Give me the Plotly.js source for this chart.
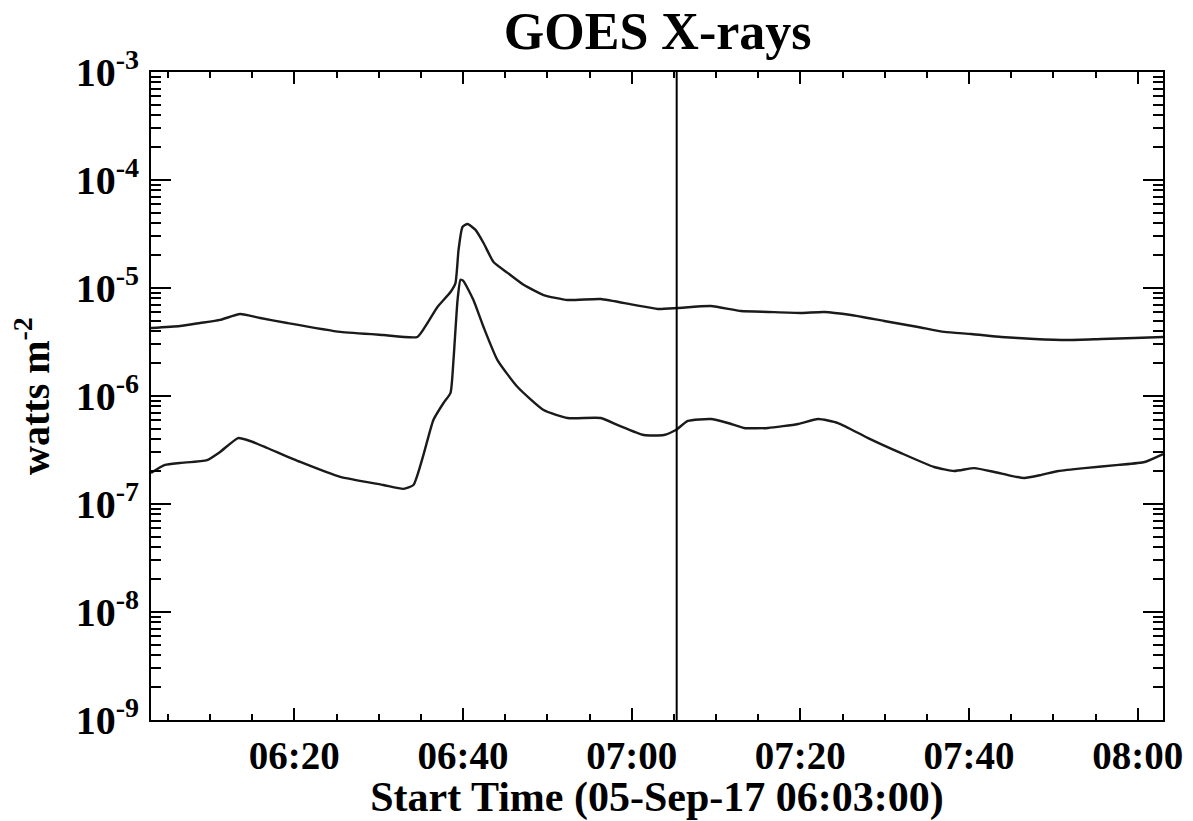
<!DOCTYPE html>
<html>
<head>
<meta charset="utf-8">
<script src="https://cdn.plot.ly/plotly-3.0.1.min.js"></script>
<style>html,body{margin:0;padding:0;background:#fff;}#chart{width:1193px;height:821px;}</style>
</head>
<body>
<div id="chart"></div>
<script>
// ---- data ----
const dateStr = '2017-09-05';
const longTimes = ['06:03:00','06:06:26','06:08:49','06:11:11','06:13:34','06:15:57','06:19:09','06:25:27','06:30:33','06:34:35','06:35:47','06:36:58','06:38:31','06:39:06','06:39:28','06:39:56','06:40:32','06:41:29','06:42:26','06:43:37','06:45:17','06:47:11','06:49:33','06:52:24','06:56:20','07:00:15','07:03:06','07:05:28','07:09:23','07:12:57','07:16:10','07:20:05','07:22:49','07:26:01','07:29:56','07:33:58','07:37:04','07:40:16','07:43:50','07:47:45','07:51:47','07:55:43','07:59:38','08:03:00'];
const longFlux = [4.26e-6,4.45e-6,4.74e-6,5.06e-6,5.74e-6,5.27e-6,4.74e-6,3.92e-6,3.67e-6,3.52e-6,4.74e-6,6.67e-6,9.18e-6,1.11e-5,2.25e-5,3.67e-5,3.92e-5,3.45e-5,2.61e-5,1.74e-5,1.38e-5,1.07e-5,8.61e-6,7.74e-6,7.91e-6,6.97e-6,6.40e-6,6.53e-6,6.81e-6,6.12e-6,6.00e-6,5.87e-6,6.00e-6,5.62e-6,4.95e-6,4.35e-6,3.92e-6,3.75e-6,3.52e-6,3.37e-6,3.30e-6,3.37e-6,3.44e-6,3.52e-6];
const shortTimes = ['06:03:00','06:04:40','06:06:26','06:09:39','06:11:11','06:13:20','06:14:45','06:16:47','06:20:42','06:25:27','06:30:33','06:32:56','06:34:07','06:35:18','06:36:29','06:37:41','06:38:31','06:38:52','06:39:21','06:39:42','06:40:03','06:41:14','06:42:26','06:44:05','06:46:28','06:49:33','06:52:24','06:56:20','06:58:21','07:01:26','07:03:49','07:05:14','07:06:40','07:09:23','07:11:25','07:13:19','07:16:10','07:19:43','07:22:06','07:24:28','07:28:02','07:31:57','07:35:52','07:38:15','07:40:37','07:43:00','07:45:00','07:46:34','07:48:35','07:50:36','07:53:41','07:57:44','08:00:49','08:03:00'];
const shortFlux = [1.94e-7,2.30e-7,2.40e-7,2.55e-7,3.03e-7,4.08e-7,3.83e-7,3.30e-7,2.45e-7,1.78e-7,1.50e-7,1.38e-7,1.50e-7,2.84e-7,6.00e-7,8.61e-7,1.07e-6,2.15e-6,7.74e-6,1.19e-5,1.16e-5,7.74e-6,4.35e-6,2.15e-6,1.21e-6,7.41e-7,6.25e-7,6.25e-7,5.38e-7,4.35e-7,4.35e-7,4.84e-7,5.87e-7,6.12e-7,5.62e-7,5.06e-7,5.06e-7,5.51e-7,6.12e-7,5.62e-7,4.08e-7,2.96e-7,2.20e-7,2.02e-7,2.15e-7,1.98e-7,1.82e-7,1.74e-7,1.86e-7,2.02e-7,2.15e-7,2.30e-7,2.45e-7,2.90e-7];
const markerTime = '07:05:20';
const xStart = '06:03:00';
const xEnd = '08:03:00';
const yTickVals = [1e-9,1e-8,1e-7,1e-6,1e-5,1e-4,1e-3];
const yTickText = ['10<sup>-9</sup>','10<sup>-8</sup>','10<sup>-7</sup>','10<sup>-6</sup>','10<sup>-5</sup>','10<sup>-4</sup>','10<sup>-3</sup>'];
const titleText = 'GOES X-rays';
const xTitleText = 'Start Time (05-Sep-17 06:03:00)';
const yTitleText = 'watts m<sup>-2</sup>';

const toDate = t => dateStr + ' ' + t;
const FONT = 'Liberation Serif, Times New Roman, serif';

const traces = [
  {x: longTimes.map(toDate), y: longFlux, type: 'scatter', mode: 'lines',
   line: {color: '#1a1a1a', width: 2.4, shape: 'spline', smoothing: 0.5}, hoverinfo: 'skip'},
  {x: shortTimes.map(toDate), y: shortFlux, type: 'scatter', mode: 'lines',
   line: {color: '#1a1a1a', width: 2.4, shape: 'spline', smoothing: 0.5}, hoverinfo: 'skip'}
];

const layout = {
  width: 1193, height: 821,
  margin: {l: 151, r: 30, t: 72, b: 101, pad: 0},
  paper_bgcolor: '#fff', plot_bgcolor: '#fff',
  showlegend: false,
  font: {family: FONT, color: '#000'},
  title: {text: titleText, x: 0.5513, xanchor: 'center', y: 0.985, yanchor: 'top',
          font: {family: FONT, size: 52, weight: 'bold', color: '#000'}},
  xaxis: {
    type: 'date', range: [toDate(xStart), toDate(xEnd)],
    tickmode: 'linear', tick0: toDate('06:00:00'), dtick: 20*60*1000,
    tickformat: '%H:%M',
    ticks: 'inside', ticklen: 12, tickwidth: 2, tickcolor: '#000',
    minor: {ticks: 'inside', dtick: 5*60*1000, tick0: toDate('06:00:00'), ticklen: 6, tickwidth: 2, tickcolor: '#000'},
    showline: true, linecolor: '#000', linewidth: 2, mirror: 'ticks',
    showgrid: false, zeroline: false,
    tickfont: {family: FONT, size: 39, weight: 'bold', color: '#000'},
    ticklabelstandoff: 0,
    title: {text: xTitleText, standoff: 4, font: {family: FONT, size: 42, weight: 'bold', color: '#000'}}
  },
  yaxis: {
    type: 'log', range: [-9, -3],
    tickmode: 'array', tickvals: yTickVals, ticktext: yTickText,
    ticks: 'inside', ticklen: 20, tickwidth: 2, tickcolor: '#000',
    minor: {ticks: 'inside', dtick: 'D1', ticklen: 10, tickwidth: 2, tickcolor: '#000'},
    showline: true, linecolor: '#000', linewidth: 2, mirror: 'ticks',
    showgrid: false, zeroline: false,
    tickfont: {family: FONT, size: 40, weight: 'bold', color: '#000'},
    ticklabelstandoff: 2,
    title: {text: yTitleText, standoff: 14, font: {family: FONT, size: 40, weight: 'bold', color: '#000'}}
  },
  shapes: [
    {type: 'line', xref: 'x', yref: 'paper', x0: toDate(markerTime), x1: toDate(markerTime), y0: 0, y1: 1,
     line: {color: '#000', width: 2}}
  ]
};

Plotly.newPlot('chart', traces, layout, {staticPlot: true, displayModeBar: false});
</script>
</body>
</html>
